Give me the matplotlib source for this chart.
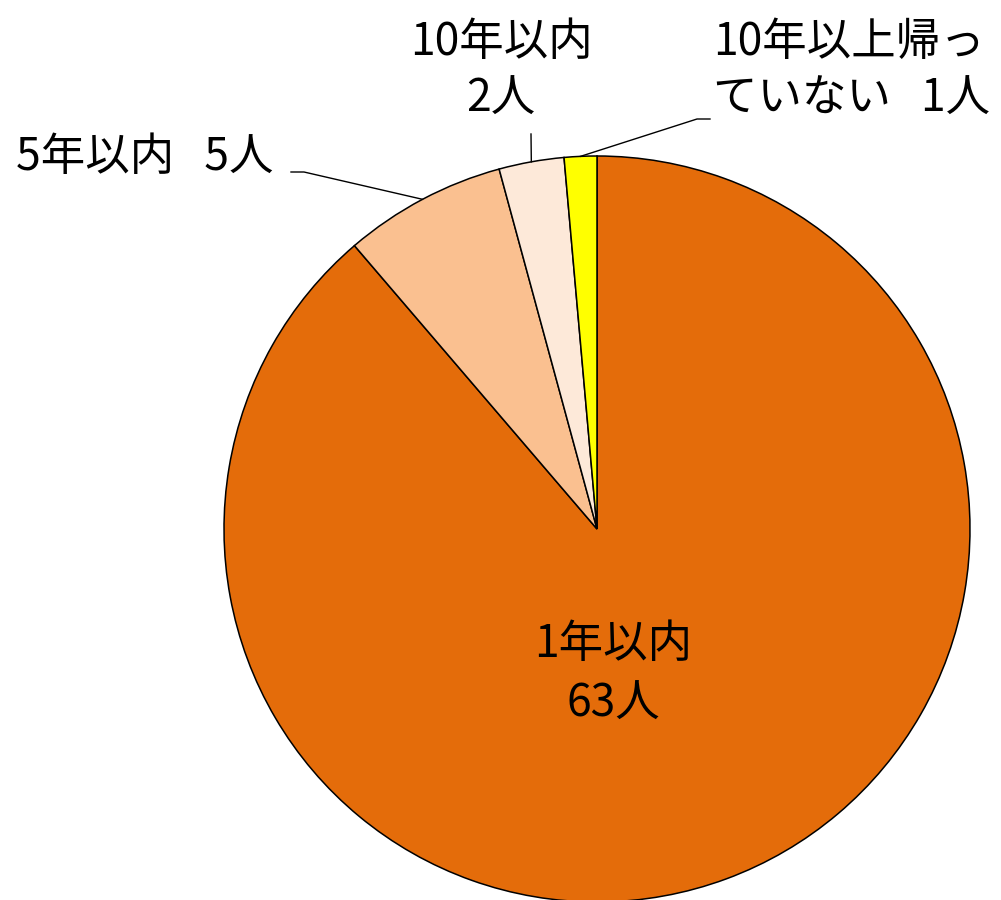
import numpy as np
import matplotlib
matplotlib.use("Agg")
import matplotlib.pyplot as plt

plt.rcParams['font.family'] = ['Noto Sans CJK JP', 'DejaVu Sans']

categories = ["1年以内", "5年以内", "10年以内", "10年以上帰っ\nていない"]
values = [63, 5, 2, 1]
colors = ["#E46C0A", "#FAC090", "#FDE9D9", "#FFFF00"]

W, H = 1001, 900
fig = plt.figure(figsize=(W / 100, H / 100), dpi=100)
ax = fig.add_axes([0, 0, 1, 1])

cx, cy, R = 597, H - 529, 373
wedges, _ = ax.pie(values, colors=colors, startangle=90, counterclock=False,
                   center=(cx, cy), radius=R, frame=True,
                   wedgeprops=dict(edgecolor='black', linewidth=1.1))
ax.set_xlim(0, W)
ax.set_ylim(0, H)
ax.set_aspect('equal')
ax.axis('off')

def mid_point(w):
    ang = np.deg2rad((w.theta1 + w.theta2) / 2)
    return cx + R * np.cos(ang), cy + R * np.sin(ang)

fs = 32
# inside label
ax.text(613, H - 674, f"{categories[0]}\n{values[0]}人", ha='center', va='center',
        fontsize=fs, linespacing=1.4, color='black')

# 5年以内
ax.text(16, H - 157, f"{categories[1]}   {values[1]}人", ha='left', va='center',
        fontsize=fs, color='black')
px, py = mid_point(wedges[1])
ax.plot([291, 304, px], [H - 172, H - 172, py], color='black', lw=1.0)

# 10年以内
ax.text(501, H - 70, f"{categories[2]}\n{values[2]}人", ha='center', va='center',
        fontsize=fs, linespacing=1.3, color='black')
px, py = mid_point(wedges[2])
ax.plot([531, px], [H - 134, py], color='black', lw=1.0)

# 10年以上帰っていない
ax.text(713, H - 70, f"{categories[3]}   {values[3]}人", ha='left', va='center',
        fontsize=fs, linespacing=1.3, color='black')
px, py = mid_point(wedges[3])
ax.plot([710, 697, px], [H - 119, H - 119, py], color='black', lw=1.0)

fig.savefig("out.png", dpi=100)
